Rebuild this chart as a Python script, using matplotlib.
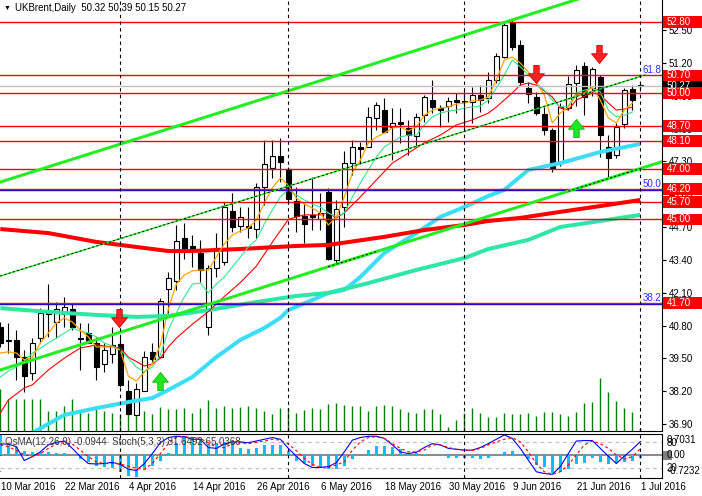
import numpy as np
import matplotlib.pyplot as plt
import matplotlib.transforms as mtransforms
from matplotlib.patches import Rectangle
from matplotlib.path import Path

plt.rcParams['font.family'] = ['Liberation Sans', 'DejaVu Sans']
plt.rcParams['font.size'] = 7

# ---------------- data ----------------
symbol = 'UKBrent,Daily'
date_labels = ['10 Mar 2016', '22 Mar 2016', '4 Apr 2016', '14 Apr 2016', '26 Apr 2016',
               '6 May 2016', '18 May 2016', '30 May 2016', '9 Jun 2016', '21 Jun 2016', '1 Jul 2016']
date_label_bars = [0, 8, 16, 24, 32, 40, 48, 56, 64, 72, 80]
separator_bars = [15, 36, 58, 80]   # 1 Apr, 2 May, 1 Jun, 1 Jul

opens = [40.75, 40.22, 40.23, 39.57, 38.93, 40.29, 41.30, 40.95, 41.26, 41.44,
         40.29, 40.52, 40.10, 39.27, 39.67, 40.06, 38.22, 37.27, 38.22, 39.75,
         39.54, 42.23, 42.56, 44.28, 43.96, 43.68, 40.75, 43.07, 43.33, 45.33,
         44.74, 44.75, 44.61, 46.30, 47.02, 47.52, 46.98, 45.73, 45.14, 45.18,
         45.00, 46.07, 43.39, 45.51, 47.22, 47.85, 47.88, 49.00, 49.33, 48.67,
         48.87, 48.63, 48.30, 49.13, 49.73, 49.40, 49.49, 49.73, 49.70, 49.66,
         49.93, 49.80, 50.52, 51.44, 52.79, 51.91, 50.22, 49.86, 49.16, 48.54,
         47.22, 49.40, 50.39, 51.07, 50.19, 50.65, 47.88, 47.55, 48.78, 50.15,
         50.32]
highs = [40.93, 40.91, 40.62, 39.83, 40.29, 41.48, 42.44, 41.72, 41.94, 41.65,
         40.89, 40.89, 40.36, 40.10, 40.75, 40.36, 38.64, 38.52, 39.79, 40.10,
         41.88, 42.93, 44.78, 44.85, 44.38, 44.19, 43.20, 44.45, 45.70, 46.06,
         45.50, 45.50, 46.45, 48.15, 48.15, 48.21, 47.09, 46.30, 45.64, 46.67,
         46.03, 46.23, 45.77, 47.71, 48.15, 48.08, 49.46, 49.66, 49.80, 49.40,
         49.40, 48.94, 49.20, 49.93, 50.52, 49.53, 49.86, 50.00, 50.12, 50.26,
         50.32, 50.85, 51.58, 52.79, 52.90, 52.10, 50.45, 50.06, 49.46, 48.61,
         49.60, 50.68, 51.11, 51.25, 51.05, 50.72, 48.34, 48.80, 50.19, 50.32,
         50.39]
lows = [39.95, 39.71, 38.64, 38.18, 38.64, 40.10, 40.36, 40.29, 40.75, 40.62,
        39.04, 40.10, 38.64, 38.97, 39.30, 38.38, 37.28, 37.25, 38.22, 39.30,
        39.50, 41.28, 42.21, 43.45, 43.13, 42.54, 40.43, 42.73, 43.20, 44.51,
        44.51, 44.25, 44.25, 45.57, 46.63, 46.49, 45.64, 44.51, 44.08, 44.58,
        44.58, 43.40, 43.27, 44.71, 46.76, 47.22, 47.85, 48.54, 48.41, 47.35,
        48.01, 47.55, 47.88, 48.87, 49.20, 48.67, 48.87, 49.20, 48.54, 48.81,
        49.27, 49.60, 50.40, 51.40, 51.70, 50.30, 49.60, 49.13, 48.34, 46.89,
        47.10, 49.33, 49.50, 49.13, 49.90, 47.48, 46.63, 47.45, 48.61, 49.33,
        50.15]
closes = [40.12, 40.17, 39.57, 38.80, 40.12, 41.28, 41.24, 41.44, 41.52, 40.73,
          40.25, 40.12, 39.17, 39.83, 40.03, 38.45, 37.30, 38.27, 39.57, 39.47,
          41.77, 42.67, 44.15, 43.79, 43.83, 43.00, 43.07, 43.88, 45.48, 44.69,
          45.08, 44.67, 46.30, 47.18, 47.51, 47.29, 45.81, 45.14, 44.82, 45.11,
          45.24, 43.42, 45.40, 47.22, 47.86, 47.80, 49.04, 49.52, 48.46, 48.81,
          48.78, 48.34, 49.07, 49.84, 49.44, 49.33, 49.69, 49.66, 49.64, 49.93,
          49.73, 50.52, 51.47, 52.70, 51.81, 50.45, 49.97, 49.20, 48.54, 47.02,
          49.46, 50.36, 50.92, 49.86, 50.94, 48.34, 47.42, 48.67, 50.12, 49.73,
          50.27]
# tick volume, in units where the price pane is 431 units tall
volumes = [42, 32, 32, 32, 32, 32, 20, 20, 25, 32, 20, 18, 25, 20, 18, 17, 17, 20, 20, 17,
           24, 22, 22, 23, 18, 23, 31, 23, 25, 23, 24, 25, 23, 20, 17, 23, 23, 18, 21, 23,
           22, 27, 28, 26, 25, 25, 20, 25, 26, 25, 22, 19, 18, 22, 22, 17, 4, 11, 18, 23,
           18, 14, 14, 18, 17, 17, 18, 15, 19, 19, 17, 15, 19, 28, 29, 53, 39, 30, 23, 19, 3]
vol_pane = 431

# thin moving averages (bars 0..79)
ma_orange = [39.71, 39.76, 39.71, 39.44, 39.55, 40.11, 40.50, 40.90, 41.10, 40.94,
             40.62, 40.35, 39.95, 39.95, 39.95, 39.83, 38.80, 38.60, 38.96, 39.28,
             40.03, 41.45, 42.44, 42.80, 42.96, 43.00, 43.00, 43.51, 44.03, 44.38,
             44.54, 44.66, 44.98, 45.65, 46.25, 46.64, 46.36, 45.85, 45.61, 45.45,
             45.26, 44.78, 45.10, 45.89, 46.84, 47.35, 48.03, 48.26, 48.42, 48.62,
             48.66, 48.50, 48.66, 49.13, 49.33, 49.41, 49.45, 49.57, 49.61, 49.69,
             49.73, 49.85, 50.52, 51.31, 51.43, 51.19, 50.84, 50.44, 49.93, 48.82,
             49.21, 49.45, 49.93, 50.01, 50.24, 49.73, 49.02, 48.82, 49.33, 49.61]
ma_green = [38.76, 39.00, 39.16, 39.40, 39.70, 39.90, 40.11, 40.30, 40.50, 40.70,
            40.58, 40.50, 40.35, 40.11, 39.99, 39.83, 39.51, 39.16, 38.96, 39.16,
            39.63, 40.62, 41.30, 41.93, 42.44, 42.48, 42.09, 42.44, 42.72, 43.12,
            43.51, 43.91, 44.19, 44.82, 45.37, 45.89, 46.17, 45.97, 45.77, 45.61,
            45.49, 45.26, 45.10, 45.26, 45.89, 46.44, 46.96, 47.47, 47.87, 48.07,
            48.26, 48.34, 48.34, 48.74, 49.06, 49.21, 49.29, 49.33, 49.41, 49.45,
            49.49, 49.73, 50.20, 50.72, 51.31, 51.04, 50.72, 50.40, 50.12, 49.73,
            49.45, 49.49, 50.01, 50.12, 50.20, 50.05, 49.33, 49.06, 49.13, 49.25]
ma_red_bars = [0, 1, 3, 4, 6, 8, 10, 12, 14, 15, 16, 18, 19, 20, 21, 22, 24, 26, 28, 30,
               32, 34, 36, 37, 38, 40, 41, 42, 43, 45, 47, 49, 51, 53, 55, 57, 59, 61, 62,
               64, 65, 66, 67, 69, 70, 71, 72, 74, 75, 76, 77, 78, 79]
ma_red = [37.34, 37.85, 38.33, 38.45, 39.04, 39.51, 39.91, 40.03, 39.95, 39.91, 39.55, 39.20,
          39.28, 39.51, 39.95, 40.30, 40.85, 41.35, 41.95, 42.50, 43.15, 44.10, 45.00, 45.10,
          45.18, 45.18, 45.26, 45.06, 45.26, 45.89, 46.56, 47.23, 47.63, 48.03, 48.34, 48.74,
          48.94, 49.21, 49.45, 50.01, 50.32, 50.40, 50.32, 49.85, 49.41, 49.33, 49.73, 50.01,
          49.93, 49.61, 49.33, 49.37, 49.45]

# thick moving averages
ma_cyan_bars = [4, 8, 12, 16, 19, 21, 24, 27, 30, 33, 35, 36, 39, 41, 43, 45, 48, 52, 55,
                58, 61, 63, 66, 70, 75, 80]
ma_cyan = [36.55, 37.26, 37.53, 37.77, 37.93, 38.25, 38.76, 39.55, 40.23, 40.70, 41.10, 41.41,
           41.81, 42.09, 42.21, 42.72, 43.67, 44.46, 45.10, 45.49, 45.93, 46.17, 46.96, 47.23,
           47.67, 47.99]
ma_thick_red_bars = [0, 6, 12, 17, 21, 24, 30, 37, 41, 48, 53, 58, 61, 65, 70, 75, 80]
ma_thick_red = [44.62, 44.46, 44.11, 43.91, 43.75, 43.75, 43.83, 43.95, 43.99, 44.31, 44.58,
                44.78, 44.94, 45.06, 45.30, 45.53, 45.77]
ma_aqua_bars = [0, 6, 12, 17, 21, 26, 32, 37, 41, 46, 52, 58, 61, 66, 70, 75, 80]
ma_aqua = [41.49, 41.34, 41.22, 41.14, 41.18, 41.41, 41.73, 41.97, 42.09, 42.48, 43.00, 43.47,
           43.83, 44.19, 44.70, 44.94, 45.18]

# objects
levels = [52.80, 50.70, 50.00, 48.70, 48.10, 47.00, 46.20, 45.70, 45.00, 41.70]
fib_levels = [50.70, 46.20, 41.70]
fib_names = ['61.8', '50.0', '38.2']
trend_top = ([0, 82.75], [46.48, 54.78])
trend_mid = ([0, 80.6], [42.76, 50.72])
trend_low = ([0, 82.75], [39.04, 47.29])
trend_low_dotted = [(41, 47), (71, 80)]
arrows_down_bar = [14.8, 66.9, 74.8]
arrows_down_price = [41.08, 50.76, 51.54]
arrows_up_bar = [20.0, 71.9]
arrows_up_price = [38.60, 48.62]
price_ticks = [36.90, 38.20, 39.50, 40.80, 42.10, 43.40, 44.70, 46.00, 47.30, 48.60,
               49.90, 51.20, 52.50]

# indicator window: OsMA(12,26,9) + Stoch(5,3,3)
osma = [0.70, 0.40, 0.29, 0.16, 0.125, 0.125, 0.10, 0.08, 0.08, -0.03,
        -0.12, -0.20, -0.35, -0.39, -0.42, -0.53, -0.66, -0.72, -0.48, -0.35,
        -0.17, 0.09, 0.40, 0.56, 0.56, 0.51, 0.35, 0.40, 0.45, 0.49,
        0.24, 0.21, 0.24, 0.35, 0.35, 0.35, 0.16, -0.17, -0.26, -0.35,
        -0.37, -0.45, -0.43, -0.33, -0.12, 0.02, 0.18, 0.32, 0.32, 0.29,
        0.20, 0.09, 0.07, 0.05, 0.01, -0.03, -0.07, -0.07, -0.09, -0.09,
        -0.12, -0.09, -0.03, 0.12, 0.16, 0.05, -0.12, -0.31, -0.39, -0.57,
        -0.53, -0.45, -0.29, -0.26, -0.09, -0.20, -0.28, -0.26, -0.20, -0.17,
        -0.0944]
stoch_main = [76, 76, 70, 38, 47, 58, 74, 80, 83, 66, 47, 31, 30, 31, 34, 29, 18, 15, 31, 54,
              79, 91, 94, 93, 87, 87, 68, 66, 76, 81, 81, 79, 83, 87, 91, 87, 66, 48, 31, 22,
              22, 24, 33, 58, 85, 91, 94, 94, 89, 74, 58, 54, 57, 68, 77, 74, 66, 64, 62, 62,
              68, 77, 87, 97, 89, 66, 39, 12, 8, 6, 24, 54, 83, 84, 84, 66, 48, 31, 48, 64,
              81.6492]
stoch_signal = [74, 70, 61, 51, 47, 54, 66, 76, 79, 76, 62, 47, 35, 31, 31, 30, 25, 20, 18, 31,
                54, 77, 91, 93, 91, 89, 79, 68, 68, 76, 79, 77, 80, 83, 87, 85, 76, 61, 43, 29,
                22, 22, 28, 35, 62, 81, 91, 93, 89, 77, 66, 58, 58, 62, 74, 74, 68, 64, 62, 61,
                66, 74, 81, 87, 91, 81, 58, 31, 12, 6, 12, 28, 51, 74, 83, 77, 66, 51, 41, 47,
                65.0368]
osma_range = (-0.7232, 0.7031)
stoch_levels = [20, 80]

# ---------------- figure ----------------
W, H = 702, 496
fig = plt.figure(figsize=(W / 100, H / 100), dpi=100, facecolor='white')


def px_box(x0, y0, x1, y1):
    return [x0 / W, 1 - y1 / H, (x1 - x0) / W, (y1 - y0) / H]


ax = fig.add_axes(px_box(0, 0, 662, 431))
axi = fig.add_axes(px_box(0, 434, 662, 477.5), sharex=ax)
xlim = (-0.04, 82.71)
ax.set_xlim(*xlim)
ax.set_ylim(36.624, 53.688)

for a in (ax, axi):
    for s in a.spines.values():
        s.set_linewidth(0.8)
        s.set_color('black')
    a.spines['left'].set_visible(False)
ax.spines['top'].set_visible(False)

x = np.arange(len(closes))
o = np.array(opens); c = np.array(closes)
body_lo = np.minimum(o, c)
body_h = np.maximum(np.abs(c - o), 0.03)
bull = c >= o

# volume bars at the foot of the price pane
ax.vlines(x, 0, np.array(volumes) / vol_pane, transform=ax.get_xaxis_transform(),
          color='#008000', lw=1.0, zorder=1)

# candles
ax.vlines(x, lows, highs, color='black', lw=0.8, zorder=2)
ax.bar(x, body_h, bottom=body_lo, width=0.62, color=np.where(bull, 'white', 'black'),
       edgecolor='black', linewidth=0.8, zorder=3)

# moving averages
ax.plot(ma_cyan_bars, ma_cyan, color='#3BDDF7', lw=2.9, zorder=4, solid_capstyle='butt')
ax.plot(ma_aqua_bars, ma_aqua, color='#2EE6A6', lw=2.9, zorder=4, solid_capstyle='butt')
ax.plot(ma_thick_red_bars, ma_thick_red, color='#FF0000', lw=2.9, zorder=4, solid_capstyle='butt')
ax.plot(np.arange(len(ma_red)) * 0 + ma_red_bars, ma_red, color='#FF0000', lw=0.8, zorder=5)
ax.plot(np.arange(len(ma_green)), ma_green, color='#2EE88E', lw=0.8, zorder=5)
ax.plot(np.arange(len(ma_orange)), ma_orange, color='#FFA500', lw=0.9, zorder=5)

# horizontal levels, fibo lines and current price
ax.axhline(closes[-1], color='#C0C0C0', lw=1.0, zorder=5)
below = mtransforms.offset_copy(ax.transData, fig=fig, y=-1.2, units='dots')
for lv in fib_levels[1:]:
    ax.plot(xlim, [lv, lv], color='#0000FF', lw=1.0, transform=below, zorder=5.5)
for lv in levels:
    ax.axhline(lv, color='#FF0000', lw=1.0, zorder=6)
for lv, name in zip(fib_levels, fib_names):
    ax.text(80.3, lv, name, color='#2B2BFF', fontsize=7, ha='left', va='bottom', zorder=8)

# trend channel
ax.plot(*trend_top, color='#22EE22', lw=2.2, zorder=6)
ax.plot(*trend_low, color='#22EE22', lw=2.2, zorder=6)
ax.plot(*trend_mid, color='#22EE22', lw=1.0, zorder=6)
ax.plot(*trend_mid, color='black', lw=0.7, ls=(0, (2, 2.5)), zorder=6.5)
for b0, b1 in trend_low_dotted:
    seg = np.array([b0, b1])
    ax.plot(seg, np.interp(seg, *trend_low), color='black', lw=0.7, ls=(0, (2, 2.5)), zorder=6.5)

# signal arrows
down_arrow = Path([(-0.3, 1), (0.3, 1), (0.3, 0.08), (0.88, 0.08), (0, -1),
                   (-0.88, 0.08), (-0.3, 0.08), (-0.3, 1)], closed=True)
up_arrow = Path([(vx, -vy) for vx, vy in down_arrow.vertices], closed=True)
ax.plot(arrows_down_bar, arrows_down_price, ls='none', marker=down_arrow, markersize=13,
        mfc='#FF2222', mec='#D00000', mew=0.6, zorder=8)
ax.plot(arrows_up_bar, arrows_up_price, ls='none', marker=up_arrow, markersize=13,
        mfc='#22E622', mec='#10B010', mew=0.6, zorder=8)

# price scale on the right
ax.yaxis.tick_right()
ax.set_yticks(price_ticks)
ax.set_yticklabels([f'{t:.2f}' for t in price_ticks], fontsize=7)
ax.tick_params(axis='y', direction='out', length=3, width=0.8, pad=2)
ax.tick_params(axis='x', bottom=False, labelbottom=False)

lab = mtransforms.blended_transform_factory(ax.transAxes, ax.transData)
box_w = 40 / 662
box_h = 0.47


def price_box(level, text, face):
    ax.add_patch(Rectangle((1.0015, level - box_h / 2), box_w, box_h, transform=lab,
                           facecolor=face, edgecolor='none', clip_on=False, zorder=10))
    ax.text(1.0015 + 4 / 662, level, text, transform=lab, color='white', fontsize=7,
            va='center', ha='left', clip_on=False, zorder=11)


price_box(closes[-1], f'{closes[-1]:.2f}', 'black')
for lv in levels:
    price_box(lv, f'{lv:.2f}', '#FF0000')

# ---------------- indicator window ----------------
axi.set_ylim(-0.724, 0.707)
axi.bar(x, osma, width=0.38, color='#00BFFF', zorder=2)
axi.axhline(0, color='#808080', lw=1.3, zorder=1)
axi.tick_params(left=False, right=False, bottom=False, labelleft=False, labelbottom=False)

axs = axi.twinx()
axs.set_ylim(-1.2, 99.2)
axs.axis('off')
for lv in stoch_levels:
    axs.axhline(lv, color='#C0C0C0', lw=0.9, ls=(0, (3, 3)), zorder=1)
axs.plot(x, stoch_main, color='#0000FF', lw=0.8, zorder=3)
axs.plot(x, stoch_signal, color='#FF0000', lw=0.8, ls=(0, (2.5, 2.5)), zorder=3)

for b in separator_bars:
    ax.axvline(b, color='black', lw=0.8, ls=(0, (3, 3)), zorder=7)
    axi.axvline(b, color='black', lw=0.8, ls=(0, (3, 3)), zorder=4)


def fx(px):
    return px / W


def fy(py):
    return 1 - py / H


fig.text(fx(5), fy(442), f'OsMA(12,26,9) {osma[-1]:.4f}  Stoch(5,3,3) {stoch_main[-1]:.4f} '
         f'{stoch_signal[-1]:.4f}', color='#3A3A3A', fontsize=7, va='center', zorder=20)

fig.patches.append(Rectangle((fx(663), fy(460)), 9 / W, 9.5 / H, transform=fig.transFigure,
                             facecolor='#808080', edgecolor='none', figure=fig))
fig.text(fx(667), fy(440), f'{osma_range[1]:.4f}', fontsize=7, va='center')
fig.text(fx(667), fy(443), f'{stoch_levels[1]}', fontsize=7, va='center')
fig.text(fx(667), fy(455.5), '0.00', fontsize=7, va='center')
fig.text(fx(667), fy(468), f'{stoch_levels[0]}', fontsize=7, va='center')
fig.text(fx(668), fy(471), f'{osma_range[0]:.4f}', fontsize=7, va='center')

# date axis
dt = mtransforms.blended_transform_factory(axi.transData, fig.transFigure)
for b, txt in zip(date_label_bars, date_labels):
    axi.text(b + 0.1, fy(487), txt, transform=dt, fontsize=7, ha='left', va='center',
             clip_on=False)

# chart header
fig.text(fx(4), fy(8), '\u25bc', fontsize=5, va='center')
fig.text(fx(15), fy(8), f'{symbol}  {opens[-1]:.2f} {highs[-1]:.2f} {lows[-1]:.2f} {closes[-1]:.2f}',
         fontsize=7, va='center')

fig.savefig('out.png', dpi=100, facecolor='white')
